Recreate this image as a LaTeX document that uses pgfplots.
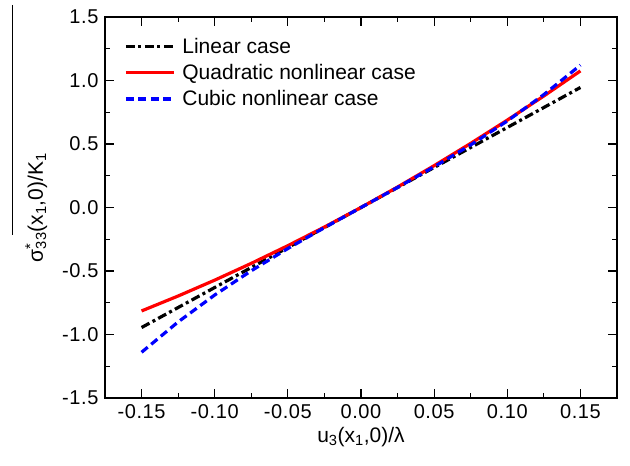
\documentclass[border=0pt]{standalone}
\usepackage{pgfplots}
\pgfplotsset{compat=1.18}
\usepackage{fontspec}
\setmainfont{Liberation Sans}
\begin{document}
\begin{tikzpicture}
\begin{axis}[
  scale only axis,
  width=512pt, height=381pt,
  xmin=-0.175, xmax=0.175,
  ymin=-1.5, ymax=1.5,
  xtick={-0.15,-0.10,-0.05,0,0.05,0.10,0.15},
  xticklabels={-0.15,-0.10,-0.05,0.00,0.05,0.10,0.15},
  ytick={-1.5,-1.0,-0.5,0,0.5,1.0,1.5},
  yticklabels={-1.5,-1.0,-0.5,0.0,0.5,1.0,1.5},
  minor x tick num=1, minor y tick num=1,
  tick align=inside,
  major tick length=9pt, minor tick length=5pt,
  every tick/.style={black, line width=1.2pt},
  axis line style={line width=1.5pt},
  tick label style={font=\fontsize{20}{24}\selectfont\addfontfeatures{LetterSpace=3}},
  xticklabel style={yshift=-3pt},
  yticklabel style={xshift=-3pt},
  /pgf/number format/assume math mode=true,
  xlabel={u\textsubscript{3}(x\textsubscript{1},0)/λ},
  ylabel={σ\rlap{\textsuperscript{*}}\textsubscript{33}(x\textsubscript{1},0)/K\textsubscript{1}},
  label style={font=\fontsize{21}{25}\selectfont},
  xlabel style={yshift=-2pt},
  ylabel style={yshift=8pt},
  legend cell align=left,
  legend style={draw=none, fill=none, at={(rel axis cs:0,1)}, anchor=north west,
    xshift=17pt, yshift=-17pt, font=\fontsize{21}{25}\selectfont,
    row sep=5.5pt, inner sep=2pt},
  legend image code/.code={\draw[#1] (0pt,0pt) -- (48pt,0pt); \path (53pt,0pt);},
]
\addplot[black, line width=3.2pt, dash pattern=on 9pt off 3.5pt on 3pt off 3.5pt] coordinates {
(-0.15,-0.945) (-0.125,-0.7875) (-0.10,-0.63) (-0.075,-0.4725) (-0.05,-0.315) (-0.025,-0.1575)
(0,0) (0.025,0.1575) (0.05,0.315) (0.075,0.4725) (0.10,0.63) (0.125,0.7875) (0.15,0.945)};
\addlegendentry{Linear case}
\addplot[red, line width=3.2pt] coordinates {
(-0.15,-0.8145) (-0.125,-0.6969) (-0.10,-0.572) (-0.075,-0.4399) (-0.05,-0.3005) (-0.025,-0.1539)
(0,0) (0.025,0.1611) (0.05,0.3295) (0.075,0.5051) (0.10,0.688) (0.125,0.8781) (0.15,1.0755)};
\addlegendentry{Quadratic nonlinear case}
\addplot[blue, line width=3.2pt, dash pattern=on 8pt off 4.5pt] coordinates {
(-0.15,-1.14) (-0.125,-0.901) (-0.10,-0.689) (-0.075,-0.498) (-0.05,-0.323) (-0.025,-0.1587)
(0,0) (0.025,0.1581) (0.05,0.321) (0.075,0.493) (0.10,0.681) (0.125,0.889) (0.15,1.121)};
\addlegendentry{Cubic nonlinear case}
\end{axis}
\draw[line width=1pt] ([xshift=-92pt,yshift=12pt]current axis.north west) -- ([xshift=-92pt,yshift=-218pt]current axis.north west);
\pgfresetboundingbox
\path ([xshift=-105pt,yshift=-68pt]current axis.south west) rectangle ++(630pt,466pt);
\end{tikzpicture}
\end{document}
